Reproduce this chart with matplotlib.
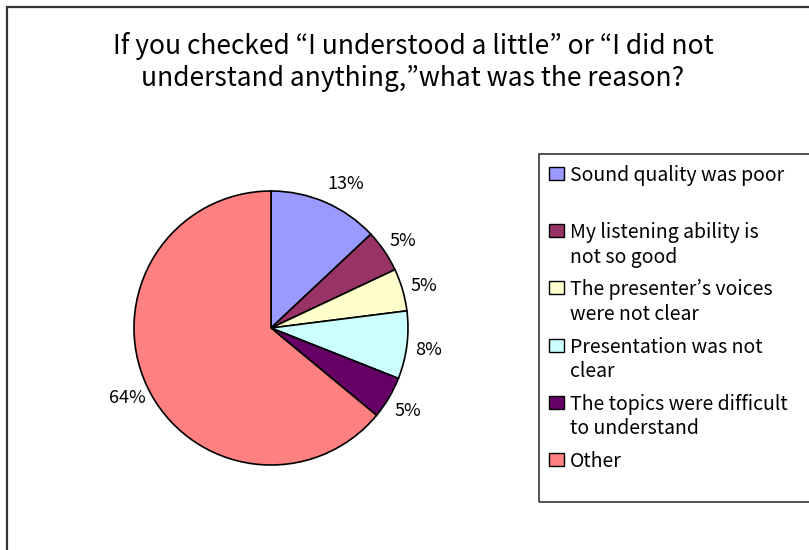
import matplotlib
matplotlib.use("Agg")
import matplotlib.pyplot as plt
from matplotlib.patches import Rectangle
from matplotlib.transforms import ScaledTranslation

plt.rcParams["font.family"] = ["Noto Sans CJK JP", "DejaVu Sans"]

reasons = [
    "Sound quality was poor",
    "My listening ability is\nnot so good",
    "The presenter’s voices\nwere not clear",
    "Presentation was not\nclear",
    "The topics were difficult\nto understand",
    "Other",
]
shares = [13, 5, 5, 8, 5, 64]
colors = ["#9999FF", "#993366", "#FFFFCC", "#CCFFFF", "#660066", "#FF8080"]

title = ("If you checked “I understood a little” or “I did not\n"
         "understand anything,”what was the reason?")

W, H = 809, 550
fig = plt.figure(figsize=(W / 100, H / 100), dpi=100)


def px(x, y):
    # pixel coords (top-left origin) -> figure fraction
    return x / W, 1 - y / H


# chart area border, runs off the right and bottom like the screenshot
fig.patches.append(Rectangle((6.5 / W, -0.1), 1.2, 1 - 6.5 / H + 0.1,
                             transform=fig.transFigure, fill=False,
                             edgecolor="#333333", linewidth=1.6))

fig.text(*px(413, 62), title, ha="center", va="center",
         fontsize=19, linespacing=1.25)

# pie: centre (271, 328), radius 137 px
cx, cy, r = 271, 328, 137
ax = fig.add_axes([(cx - r) / W, (H - cy - r) / H, 2 * r / W, 2 * r / H])
wedges, texts, autotexts = ax.pie(
    shares, colors=colors, startangle=90, counterclock=False,
    autopct="%d%%", pctdistance=1.16,
    wedgeprops=dict(edgecolor="black", linewidth=1.2),
    textprops=dict(fontsize=13),
)
# Excel pushed the first label a little to the right
nudges = [(12, -2), (0, -2), (0, -2), (0, -2), (0, -2), (0, -2)]
for t, (dx, dy) in zip(autotexts, nudges):
    t.set_transform(t.get_transform() +
                    ScaledTranslation(dx / 100, dy / 100, fig.dpi_scale_trans))
ax.set_xlim(-1, 1)
ax.set_ylim(-1, 1)
ax.set_aspect("equal")
ax.axis("off")

# legend box and entries
fig.patches.append(Rectangle(px(539, 502), 1.0, (502 - 154) / H,
                             transform=fig.transFigure, fill=False,
                             edgecolor="#333333", linewidth=1.2))
for i, (lab, col) in enumerate(zip(reasons, colors)):
    top = 167 + 57.2 * i
    fig.patches.append(Rectangle(px(549, top + 13), 15 / W, 13 / H,
                                 transform=fig.transFigure, facecolor=col,
                                 edgecolor="black", linewidth=1))
    fig.text(*px(570, top - 2), lab, ha="left", va="top",
             fontsize=14, linespacing=1.23)

fig.savefig("out.png", dpi=100)
